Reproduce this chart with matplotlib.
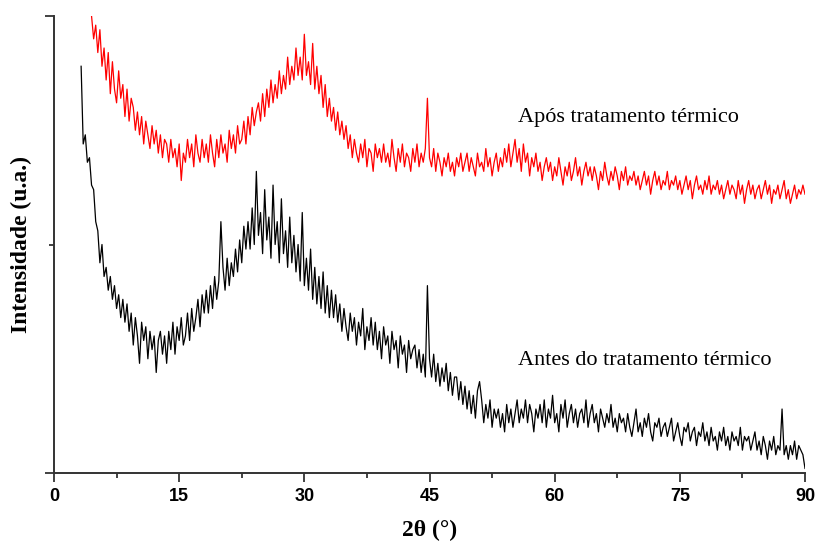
import numpy as np
import matplotlib
matplotlib.use("Agg")
import matplotlib.pyplot as plt
from matplotlib.ticker import FixedLocator

plt.rcParams['font.family'] = ['Liberation Serif', 'DejaVu Serif']

# 2theta grid: 0.25 deg steps
step = 0.25
red_start = 4.5
black_start = 3.25

# after heat treatment (red), from 4.5 to 90 deg
red = [
    100, 95, 98, 92, 97, 89, 93, 86, 92, 83, 90, 84, 81, 88, 82, 85, 78, 84, 77, 82,
    80, 75, 79, 74, 78, 72, 77, 74, 71, 76, 72, 75, 70, 74, 69, 73, 72, 68, 73, 69,
    71, 67, 72, 64, 70, 68, 73, 69, 72, 67, 74, 70, 68, 73, 69, 72, 68, 74, 70, 67,
    73, 69, 74, 70, 72, 68, 75, 71, 74, 70, 76, 72, 73, 77, 72, 78, 74, 80, 76, 79,
    81, 77, 83, 78, 84, 80, 86, 81, 85, 82, 88, 83, 87, 84, 91, 85, 89, 86, 93, 87,
    91, 86, 96, 87, 90, 85, 94, 84, 89, 83, 87, 80, 85, 78, 82, 77, 80, 75, 79, 74,
    77, 73, 76, 71, 74, 69, 73, 70, 68, 72, 69, 73, 67, 71, 70, 66, 72, 69, 71, 68,
    72, 68, 70, 67, 73, 69, 66, 71, 68, 72, 67, 70, 69, 66, 71, 68, 72, 67, 70, 68,
    71, 82, 69, 67, 71, 66, 70, 68, 65, 69, 67, 70, 66, 68, 65, 69, 67, 70, 66, 68,
    70, 66, 69, 67, 65, 70, 67, 68, 66, 71, 67, 69, 65, 68, 70, 66, 69, 67, 71, 68,
    72, 67, 70, 73, 68, 71, 66, 72, 68, 70, 65, 69, 67, 70, 66, 68, 64, 67, 69, 66,
    68, 64, 67, 65, 69, 66, 63, 67, 65, 68, 64, 66, 69, 65, 67, 63, 66, 68, 65, 67,
    64, 67, 65, 62, 66, 64, 68, 65, 63, 66, 64, 67, 65, 62, 66, 64, 67, 63, 65, 64,
    66, 63, 65, 62, 64, 66, 63, 65, 61, 64, 66, 63, 65, 62, 64, 63, 66, 62, 64, 63,
    65, 62, 64, 61, 63, 65, 62, 64, 60, 63, 65, 62, 63, 61, 64, 62, 65, 61, 63, 62,
    64, 61, 63, 60, 62, 64, 61, 63, 62, 60, 64, 61, 63, 59, 62, 64, 61, 63, 60, 62,
    63, 60, 62, 64, 61, 63, 59, 62, 61, 63, 60, 62, 64, 60, 62, 59, 61, 63, 60, 62,
    61, 63, 61,
]

# before heat treatment (black), from 3.25 to 90 deg
black = [
    89, 72, 74, 68, 69, 63, 62, 55, 53, 46, 50, 43, 45, 40, 43, 38, 41, 36, 39, 34,
    38, 33, 37, 31, 35, 28, 34, 30, 24, 33, 29, 32, 25, 31, 27, 30, 22, 29, 31, 26,
    30, 24, 31, 27, 33, 26, 32, 29, 34, 28, 30, 35, 29, 36, 31, 34, 38, 32, 39, 35,
    40, 35, 41, 36, 43, 38, 42, 55, 45, 40, 47, 41, 46, 43, 49, 44, 51, 46, 54, 49,
    55, 49, 58, 50, 66, 52, 57, 48, 62, 51, 56, 47, 63, 50, 55, 46, 60, 48, 53, 45,
    56, 46, 52, 44, 50, 42, 57, 41, 47, 40, 49, 38, 45, 37, 43, 36, 44, 35, 41, 34,
    40, 34, 39, 33, 37, 31, 36, 32, 29, 35, 31, 34, 28, 33, 30, 36, 27, 32, 29, 34,
    28, 33, 27, 31, 25, 32, 28, 30, 24, 31, 27, 29, 23, 30, 26, 28, 22, 29, 25, 27,
    28, 23, 27, 22, 26, 21, 41, 25, 21, 26, 20, 24, 19, 23, 20, 24, 18, 22, 17, 21,
    21, 16, 20, 15, 19, 14, 18, 13, 17, 12, 18, 20, 16, 11, 15, 12, 16, 10, 14, 12,
    14, 10, 13, 9, 15, 11, 14, 10, 13, 16, 11, 14, 12, 16, 11, 15, 13, 9, 14, 12,
    15, 11, 16, 10, 14, 12, 17, 11, 13, 9, 15, 12, 16, 10, 13, 15, 11, 14, 10, 13,
    14, 11, 16, 10, 13, 15, 11, 13, 9, 14, 12, 10, 13, 11, 15, 10, 12, 9, 13, 11,
    12, 9, 13, 10, 8, 11, 14, 9, 11, 8, 12, 10, 13, 9, 7, 11, 10, 12, 8, 10,
    11, 8, 10, 12, 7, 9, 11, 8, 6, 10, 9, 11, 7, 9, 10, 6, 9, 8, 11, 7,
    9, 6, 10, 7, 8, 5, 9, 7, 10, 6, 8, 5, 9, 7, 8, 6, 10, 5, 8, 7,
    8, 5, 7, 9, 5, 7, 4, 8, 6, 3, 7, 5, 8, 4, 6, 5, 14, 4, 6, 3,
    6, 4, 7, 3, 6, 5, 4, 1,
]

x_ticks = [0, 15, 30, 45, 60, 75, 90]

x_red = red_start + step * np.arange(len(red))
x_black = black_start + step * np.arange(len(black))

fig = plt.figure(figsize=(8.15, 5.45), dpi=100)
ax = fig.add_axes([54 / 815, 1 - 473 / 545, 751 / 815, 457 / 545])

ax.plot(x_black, black, color='black', linewidth=0.9)
ax.plot(x_red, red, color='red', linewidth=0.9)

ax.set_xlim(0, 90)
ax.set_ylim(0, 100)

ax.spines['top'].set_visible(False)
ax.spines['right'].set_visible(False)
ax.spines['left'].set_color('#333333')
ax.spines['bottom'].set_color('#333333')
ax.spines['left'].set_linewidth(1.4)
ax.spines['bottom'].set_linewidth(1.4)

ax.set_xticks(x_ticks)
ax.xaxis.set_minor_locator(FixedLocator([7.5, 22.5, 37.5, 52.5, 67.5, 82.5]))
ax.set_yticks([0, 100])
ax.yaxis.set_minor_locator(FixedLocator([50]))
ax.set_yticklabels([])
ax.tick_params(axis='both', which='major', direction='out', length=6.5, width=1.3,
               color='#333333', pad=4)
ax.tick_params(axis='both', which='minor', direction='out', length=3.5, width=1.3,
               color='#333333')
for lab in ax.get_xticklabels():
    lab.set_family(['Liberation Sans', 'DejaVu Sans'])
    lab.set_fontweight('bold')
    lab.set_fontsize(13)

ax.set_xlabel('2θ (°)', fontsize=17, fontweight='bold', labelpad=11)
ax.set_ylabel('Intensidade (u.a.)', fontsize=17, fontweight='bold', labelpad=5)

ax.text(55.6, 77.7, 'Após tratamento térmico', fontsize=16, va='center', ha='left')
ax.text(55.6, 24.7, 'Antes do tratamento térmico', fontsize=16, va='center', ha='left')

fig.savefig('out.png', dpi=100)
